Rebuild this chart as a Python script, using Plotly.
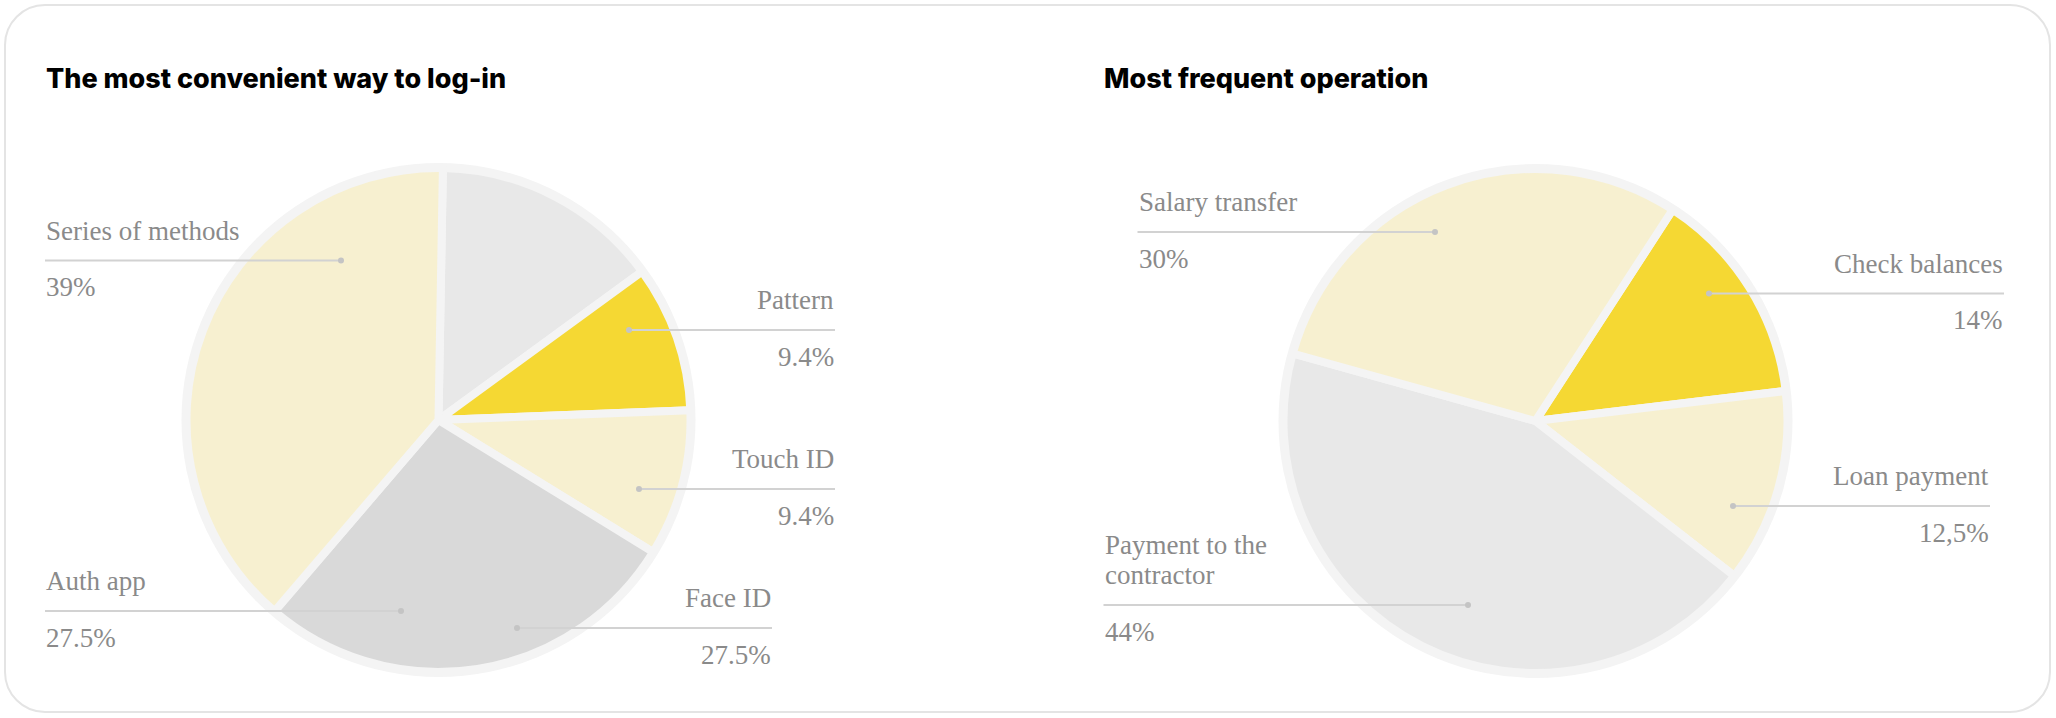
import plotly.graph_objects as go

W, H = 2056, 718

# ---------------- data ----------------
left_title = "The most convenient way to log-in"
left_slice_names = ["Unlabeled", "Pattern", "Touch ID", "Face ID", "Series of methods"]
left_slice_values = [14.7, 9.4, 9.4, 27.5, 39]
left_callout_names = ["Series of methods", "Pattern", "Touch ID", "Face ID", "Auth app"]
left_callout_values = ["39%", "9.4%", "9.4%", "27.5%", "27.5%"]

right_title = "Most frequent operation"
right_slice_names = ["Check balances", "Loan payment", "Payment to the contractor", "Salary transfer"]
right_slice_values = [14, 12.5, 44, 30]
right_callout_names = ["Salary transfer", "Check balances", "Loan payment", "Payment to the<br>contractor"]
right_callout_values = ["30%", "14%", "12,5%", "44%"]

# ---------------- styles / layout ----------------
CREAM, YELLOW, LGRAY, DGRAY = "#f7f0d0", "#f5d833", "#e8e8e8", "#d9d9d9"
RING = "#f4f4f4"
left_colors = [LGRAY, YELLOW, CREAM, DGRAY, CREAM]
right_colors = [YELLOW, CREAM, LGRAY, CREAM]

LABEL_FONT = dict(family="Liberation Serif", size=27, color="#8a8a8a")
TITLE_FONT = dict(family="Inter", size=27, color="#000000", weight=800)
LINE_COLOR = "#d2d2d2"
DOT_COLOR = "#c4c4c4"


def px(x):
    return x / W


def py(y):
    return 1 - y / H


def pie_domain(cx, cy, r):
    return dict(x=[px(cx - r), px(cx + r)], y=[py(cy + r), py(cy - r)])


PIE_R = 252
RING_R = 257
left_center = (438.5, 420)
right_center = (1535.5, 421)

fig = go.Figure()
fig.add_trace(go.Pie(
    labels=left_slice_names, values=left_slice_values, sort=False,
    direction="clockwise", rotation=1,
    marker=dict(colors=left_colors, line=dict(color=RING, width=8)),
    textinfo="none", hoverinfo="label+value", showlegend=False,
    domain=pie_domain(*left_center, PIE_R),
))
fig.add_trace(go.Pie(
    labels=right_slice_names, values=right_slice_values, sort=False,
    direction="clockwise", rotation=33,
    marker=dict(colors=right_colors, line=dict(color=RING, width=8)),
    textinfo="none", hoverinfo="label+value", showlegend=False,
    domain=pie_domain(*right_center, PIE_R),
))

shapes = []
annotations = []

# card outline with rounded corners
x0, y0, x1, y1, r = 5, 5, 2050, 712, 40
k = 0.5523 * r


def P(x, y):
    return f"{px(x):.6f},{py(y):.6f}"


card = (f"M {P(x0 + r, y0)} L {P(x1 - r, y0)} "
        f"C {P(x1 - r + k, y0)} {P(x1, y0 + r - k)} {P(x1, y0 + r)} "
        f"L {P(x1, y1 - r)} "
        f"C {P(x1, y1 - r + k)} {P(x1 - r + k, y1)} {P(x1 - r, y1)} "
        f"L {P(x0 + r, y1)} "
        f"C {P(x0 + r - k, y1)} {P(x0, y1 - r + k)} {P(x0, y1 - r)} "
        f"L {P(x0, y0 + r)} "
        f"C {P(x0, y0 + r - k)} {P(x0 + r - k, y0)} {P(x0 + r, y0)} Z")
shapes.append(dict(type="path", xref="paper", yref="paper", path=card,
                   line=dict(color="#e4e4e4", width=2), fillcolor="rgba(0,0,0,0)",
                   layer="below"))

# ring behind each pie
for cx, cy in (left_center, right_center):
    shapes.append(dict(type="circle", xref="paper", yref="paper",
                       x0=px(cx - RING_R), x1=px(cx + RING_R),
                       y0=py(cy + RING_R), y1=py(cy - RING_R),
                       fillcolor=RING, line=dict(width=0), layer="below"))

# titles
for tx, text in ((45, left_title), (1103, right_title)):
    annotations.append(dict(x=px(tx), y=py(78), xref="paper", yref="paper",
                            text=text, showarrow=False, xanchor="left",
                            yanchor="middle", font=TITLE_FONT, borderpad=0))

# callout geometry: (side, text x, dot x, line y)
left_pos = [("left", 45, 341, 260.5), ("right", 835, 629, 330),
            ("right", 835, 639, 489), ("right", 772, 517, 628),
            ("left", 45, 401, 611)]
right_pos = [("left", 1137.5, 1435, 232), ("right", 2004, 1709, 293.5),
             ("right", 1990, 1733, 506), ("left", 1103.5, 1468, 605)]


def add_callouts(names, values, positions):
    for name, val, (side, tx, dx, ly) in zip(names, values, positions):
        shapes.append(dict(type="line", xref="paper", yref="paper",
                           x0=px(tx), x1=px(dx), y0=py(ly), y1=py(ly),
                           line=dict(color=LINE_COLOR, width=2), layer="above"))
        rd = 3
        shapes.append(dict(type="circle", xref="paper", yref="paper",
                           x0=px(dx - rd), x1=px(dx + rd), y0=py(ly + rd), y1=py(ly - rd),
                           fillcolor=DOT_COLOR, line=dict(width=0), layer="above"))
        anchor = "left" if side == "left" else "right"
        lines = name.split("<br>")
        for i, ln in enumerate(reversed(lines)):
            annotations.append(dict(x=px(tx), y=py(ly - 30 - 30 * i), xref="paper", yref="paper",
                                    text=ln, showarrow=False, xanchor=anchor, yanchor="middle",
                                    font=LABEL_FONT, borderpad=0))
        annotations.append(dict(x=px(tx), y=py(ly + 27), xref="paper", yref="paper",
                                text=val, showarrow=False, xanchor=anchor, yanchor="middle",
                                font=LABEL_FONT, borderpad=0))


add_callouts(left_callout_names, left_callout_values, left_pos)
add_callouts(right_callout_names, right_callout_values, right_pos)

fig.update_layout(
    width=W, height=H,
    margin=dict(l=0, r=0, t=0, b=0),
    paper_bgcolor="white", plot_bgcolor="white",
    shapes=shapes, annotations=annotations, showlegend=False,
)

fig.write_html(
    "out.html",
    config={"displayModeBar": False},
    post_script="document.body.style.margin='0';document.body.style.overflow='hidden';",
)
